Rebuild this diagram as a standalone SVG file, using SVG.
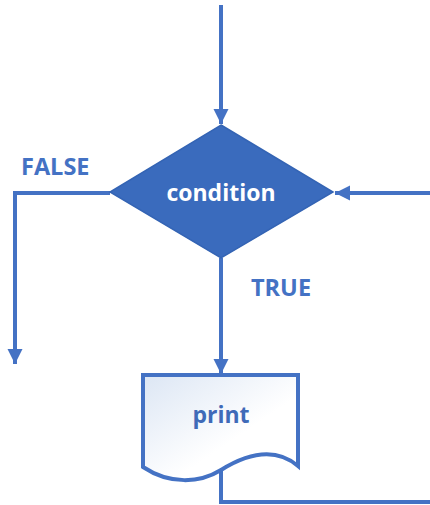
<svg xmlns="http://www.w3.org/2000/svg" width="430" height="505" viewBox="0 0 430 505">
  <style>
    .line { fill: none; stroke: #4472c4; stroke-width: 4; stroke-linejoin: miter; }
    .label { font-family: "Open Sans", "Liberation Sans", sans-serif; font-weight: bold; font-size: 23.5px; fill: #4472c4; }
    .inner { font-family: "Open Sans", "Liberation Sans", sans-serif; font-weight: bold; font-size: 23px; text-anchor: middle; }
  </style>
  <defs>
    <marker id="arrow" markerUnits="userSpaceOnUse" markerWidth="16" markerHeight="16" refX="15" refY="8" orient="auto">
      <path d="M0,0.5 L15,8 L0,15.5 z" fill="#4472c4"/>
    </marker>
    <linearGradient id="docFill" x1="0" y1="0" x2="1" y2="1">
      <stop offset="0" stop-color="#dce6f4"/>
      <stop offset="0.6" stop-color="#ffffff"/>
    </linearGradient>
  </defs>
  <rect width="430" height="505" fill="#ffffff"/>

  <g id="connectors">
    <path class="line" d="M221,5 V124" marker-end="url(#arrow)"/>
    <path class="line" d="M110,193 H15 V364" marker-end="url(#arrow)"/>
    <path class="line" d="M221,258 V374" marker-end="url(#arrow)"/>
    <path class="line" d="M221,470 V502 H433 V193 H335" marker-end="url(#arrow)"/>
  </g>

  <g id="condition">
    <polygon points="221,125 333,192 221,258 110,192" fill="#3a6bbd" stroke="#3464b4" stroke-width="1.5"/>
    <text class="inner" x="221" y="201" fill="#ffffff">condition</text>
  </g>

  <g id="print">
    <path d="M143,375 H298 V466 C272,444 242,457 221,470 C200,483 170,485 143,467 Z" fill="url(#docFill)" stroke="#4472c4" stroke-width="4"/>
    <text class="inner" x="221" y="423" fill="#3f6ab8">print</text>
  </g>

  <g id="labels">
    <text class="label" x="21" y="175">FALSE</text>
    <text class="label" x="251" y="296">TRUE</text>
  </g>
</svg>
